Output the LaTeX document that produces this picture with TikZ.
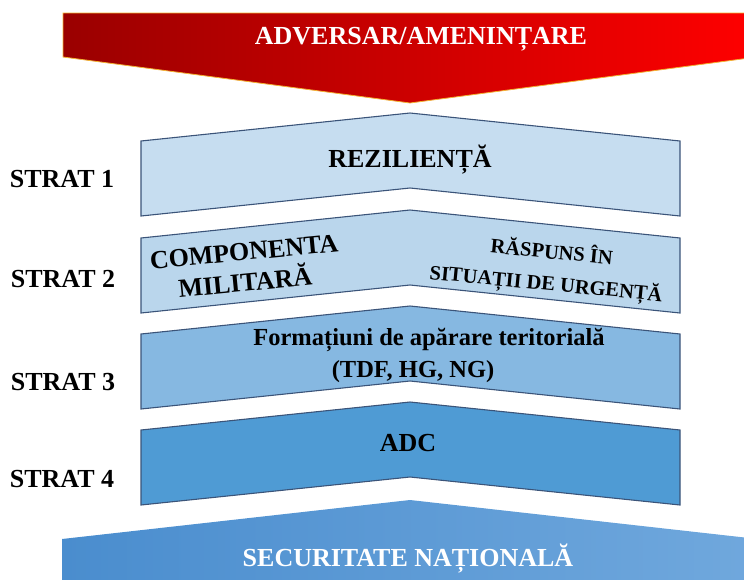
\documentclass[tikz,border=0pt]{standalone}
\usepackage{fontspec}
\setmainfont{Liberation Serif}
\definecolor{redL}{HTML}{9A0000}
\definecolor{redR}{HTML}{FF0000}
\definecolor{redEdge}{HTML}{F2B233}
\definecolor{cA}{HTML}{C6DDF0}
\definecolor{cB}{HTML}{BAD6EC}
\definecolor{cC}{HTML}{86B8E1}
\definecolor{cD}{HTML}{4F9BD4}
\definecolor{edgecol}{HTML}{3B5479}
\definecolor{blueL}{HTML}{4A8DCE}
\definecolor{blueR}{HTML}{70A8DD}
\newcommand\chevronshape[2]{%
  \draw[chevline, fill=#2] (141,#1+28) -- (410,#1) -- (680,#1+28) -- (680,#1+103) -- (410,#1+75) -- (141,#1+103) -- cycle;}
\tikzset{
  chevline/.style={draw=edgecol, line width=1.1pt, line join=miter},
  lbl/.style={font=\fontsize{26}{30}\selectfont\bfseries, inner sep=0pt, align=center},
  lowlbl/.style={font=\fontsize{24.5}{29}\selectfont\bfseries, inner sep=0pt, align=center},
  smalllbl/.style={font=\fontsize{20.5}{26}\selectfont\bfseries, inner sep=0pt, align=center},
  whitelbl/.style={lbl, text=white},
}
\begin{document}
\begin{tikzpicture}[x=1pt,y=-1pt]
\useasboundingbox (0,0) rectangle (744,579);
% threat arrow
\shadedraw[left color=redL, right color=redR, draw=redEdge, line width=0.8pt]
  (63,13) -- (757,13) -- (757,57) -- (410,103) -- (63,57) -- cycle;
\node[whitelbl, anchor=base] (threat) at (421,44) {ADVERSAR/AMENINȚARE};
% layers
\chevronshape{113}{cA}
\chevronshape{210}{cB}
\chevronshape{306}{cC}
\chevronshape{402}{cD}
\node[lbl, anchor=base] (rez) at (410,167) {REZILIENȚĂ};
\node[lbl, rotate=5.5] (mil1) at (244,252) {COMPONENTA};
\node[lbl, rotate=5.5] (mil2) at (245,280) {MILITARĂ};
\node[smalllbl, rotate=-5.5] (urg1) at (552,250) {RĂSPUNS ÎN};
\node[smalllbl, rotate=-5.5] (urg2) at (546,284) {SITUAȚII DE URGENȚĂ};
\node[lowlbl, anchor=base] (tdf1) at (429,345) {Formațiuni de apărare teritorială};
\node[lowlbl, anchor=base] (tdf2) at (413,377) {(TDF, HG, NG)};
\node[lbl, anchor=base] (adc) at (408,451) {ADC};
% national security
\shade[left color=blueL, right color=blueR]
  (62,539) -- (410,500) -- (758,539) -- (758,600) -- (62,600) -- cycle;
\node[whitelbl, anchor=base] (sec) at (408,566) {SECURITATE NAȚIONALĂ};
% strata labels
\node[lbl, anchor=base] (s1) at (62,187) {STRAT 1};
\node[lbl, anchor=base] (s2) at (63,287) {STRAT 2};
\node[lbl, anchor=base] (s3) at (63,390) {STRAT 3};
\node[lbl, anchor=base] (s4) at (62,487) {STRAT 4};
\end{tikzpicture}
\end{document}
